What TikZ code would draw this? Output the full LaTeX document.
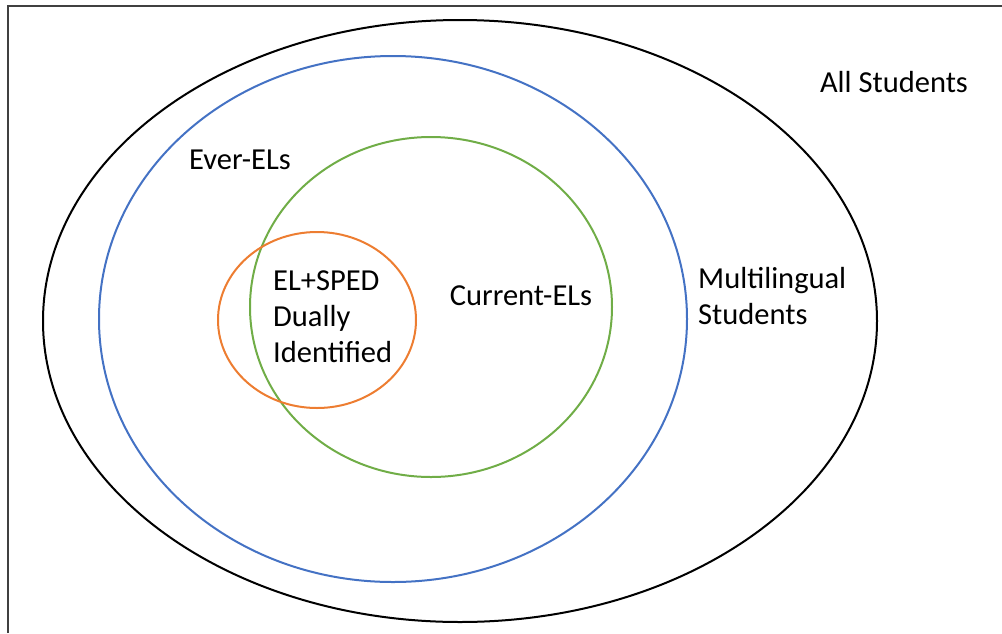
\documentclass[tikz,border=0pt]{standalone}
\usepackage{fontspec}
\setmainfont{Carlito}
\definecolor{everblue}{RGB}{68,114,196}
\definecolor{curgreen}{RGB}{112,173,71}
\definecolor{spedorange}{RGB}{237,125,49}
\tikzset{lbl/.style={inner sep=0pt,font=\fontsize{30.5}{36}\selectfont},
	ring/.style={line width=2pt}}
\begin{document}
\begin{tikzpicture}[x=1pt,y=-1pt]
		\useasboundingbox (0,0) rectangle (1002,633);
		\draw[line width=2.5pt,black!75] (8,633) -- (8,6) -- (1002,6);
		\draw[ring,black] (460,321) ellipse (417 and 301);
		\draw[ring,everblue] (393,319) ellipse (294 and 263);
		\draw[ring,curgreen] (431,307) ellipse (181 and 170);
		\draw[ring,spedorange] (317,320) ellipse (99 and 88);
		\node[lbl] (all) at (894,82) {All Students};
		\node[lbl] (ever) at (240,160) {Ever-ELs};
		\node[lbl] (cur) at (521,296) {Current-ELs};
		\node[lbl,anchor=west,align=left] (multi) at (698,296) {Multilingual\\Students};
		\node[lbl,anchor=west,align=left] (dual) at (273,317) {EL+SPED\\Dually\\Identified};
\end{tikzpicture}
\end{document}
